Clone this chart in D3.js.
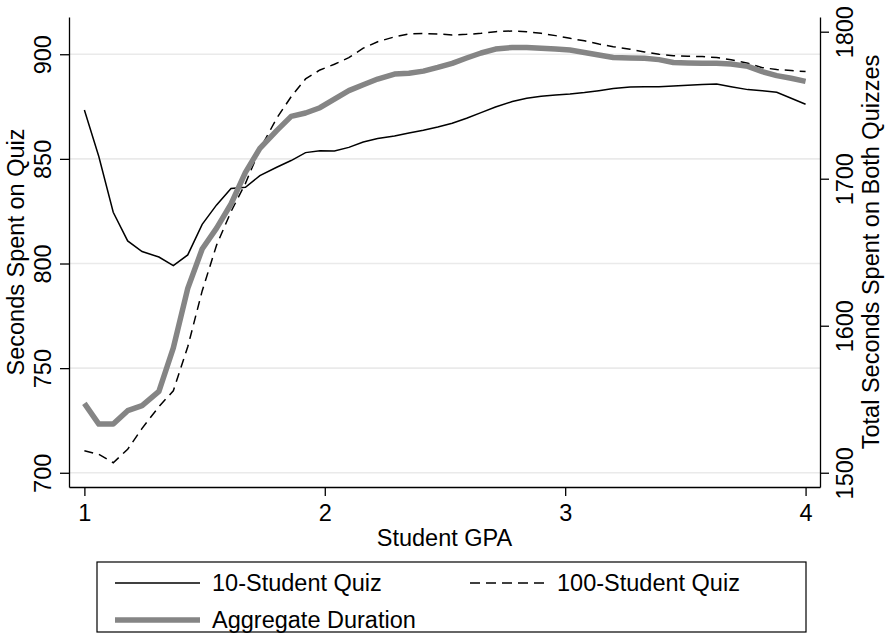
<!DOCTYPE html>
<html>
<head>
<meta charset="utf-8">
<script src="https://cdn.jsdelivr.net/npm/d3@7"></script>
<style>
  body { margin: 0; background: #fff; }
  text { font-family: "Liberation Sans", Arial, Helvetica, sans-serif; fill: #000; }
</style>
</head>
<body>
<div id="chart"></div>
<script>
// GPA grid (50 points between 1 and 4)
const gpa = [1.00, 1.06, 1.12, 1.18, 1.24, 1.31, 1.37, 1.43, 1.49, 1.55,
             1.61, 1.67, 1.73, 1.80, 1.86, 1.92, 1.98, 2.04, 2.10, 2.16,
             2.22, 2.29, 2.35, 2.41, 2.47, 2.53, 2.59, 2.65, 2.71, 2.78,
             2.84, 2.90, 2.96, 3.02, 3.08, 3.14, 3.20, 3.27, 3.33, 3.39,
             3.45, 3.51, 3.57, 3.63, 3.69, 3.76, 3.82, 3.88, 3.94, 4.00];

// seconds spent, 10-student quiz (left axis)
const quiz10 = [873.4, 851.1, 824.5, 810.8, 805.7, 803.1, 799.0, 804.1, 818.7, 828.0,
                835.9, 836.4, 842.0, 846.0, 849.2, 853.0, 853.9, 853.8, 855.5, 858.1,
                859.7, 860.9, 862.4, 863.7, 865.2, 867.0, 869.4, 872.1, 874.8, 877.4,
                879.0, 879.9, 880.5, 881.0, 881.7, 882.6, 883.6, 884.4, 884.5, 884.5,
                884.8, 885.2, 885.5, 885.8, 884.5, 883.1, 882.6, 881.8, 879.0, 876.1];

// seconds spent, 100-student quiz (left axis)
const quiz100 = [710.5, 708.8, 704.8, 711.2, 721.2, 731.6, 739.2, 760.2, 786.9, 808.8,
                 824.8, 838.3, 854.6, 869.4, 879.7, 888.2, 892.5, 895.2, 898.4, 902.9,
                 906.0, 908.3, 909.7, 909.9, 909.7, 909.2, 909.5, 910.0, 910.8, 911.1,
                 910.8, 910.0, 908.9, 907.6, 906.4, 904.9, 903.6, 902.4, 901.1, 900.0,
                 899.3, 899.0, 898.9, 898.4, 897.4, 895.7, 893.6, 892.7, 892.2, 891.7];

// total seconds on both quizzes (right axis)
const aggregate = [1547.2, 1533.1, 1533.1, 1542.2, 1545.6, 1555.3, 1585.0, 1625.4, 1652.2, 1666.4,
                   1682.8, 1704.3, 1720.6, 1732.7, 1742.4, 1744.7, 1748.3, 1754.2, 1759.9, 1763.9,
                   1767.8, 1771.2, 1771.7, 1773.2, 1775.7, 1778.5, 1782.1, 1785.5, 1788.2, 1789.3,
                   1789.3, 1788.7, 1788.2, 1787.5, 1785.9, 1784.1, 1782.5, 1782.1, 1781.9, 1781.0,
                   1779.1, 1778.7, 1778.5, 1778.5, 1778.0, 1776.4, 1772.8, 1770.1, 1768.3, 1766.2];

const xTicks = [1, 2, 3, 4];
const leftTicks = [700, 750, 800, 850, 900];
const rightTicks = [1500, 1600, 1700, 1800];

const width = 886, height = 643;
const plot = { left: 69, right: 820, top: 17, bottom: 487 };
const fontSize = 23.5;

const svg = d3.select("#chart").append("svg")
    .attr("width", width)
    .attr("height", height);

const x = d3.scaleLinear().domain([0.936, 4.06]).range([plot.left, plot.right]);
const yLeft = d3.scaleLinear().domain([693.2, 917.8]).range([plot.bottom, plot.top]);
const yRight = d3.scaleLinear().domain([1490.3, 1810]).range([plot.bottom, plot.top]);

// gridlines
svg.append("g").selectAll("line")
    .data(leftTicks)
    .enter().append("line")
    .attr("x1", plot.left).attr("x2", plot.right)
    .attr("y1", d => yLeft(d)).attr("y2", d => yLeft(d))
    .attr("stroke", "#eaeaea")
    .attr("stroke-width", 1.6);

// left axis
const gLeft = svg.append("g")
    .attr("transform", `translate(${plot.left},0)`)
    .call(d3.axisLeft(yLeft).tickValues(leftTicks).tickSize(9).tickSizeOuter(0));
gLeft.selectAll("text")
    .attr("transform", "rotate(-90)")
    .attr("x", 0)
    .attr("y", -18)
    .attr("dy", null)
    .attr("text-anchor", "middle")
    .attr("font-size", fontSize)
    .attr("font-family", null);

// right axis
const gRight = svg.append("g")
    .attr("transform", `translate(${plot.right},0)`)
    .call(d3.axisRight(yRight).tickValues(rightTicks).tickFormat(d3.format("d")).tickSize(9).tickSizeOuter(0));
gRight.selectAll("text")
    .attr("transform", "rotate(-90)")
    .attr("x", 0)
    .attr("y", 33)
    .attr("dy", null)
    .attr("text-anchor", "middle")
    .attr("font-size", fontSize)
    .attr("font-family", null);

// bottom axis
const gBottom = svg.append("g")
    .attr("transform", `translate(0,${plot.bottom})`)
    .call(d3.axisBottom(x).tickValues(xTicks).tickFormat(d3.format("d")).tickSize(9).tickSizeOuter(0));
gBottom.selectAll("text")
    .attr("y", 34)
    .attr("dy", null)
    .attr("font-size", fontSize)
    .attr("font-family", null);

[gLeft, gRight, gBottom].forEach(g => {
    g.select(".domain").attr("stroke", "#000").attr("stroke-width", 1.3);
    g.selectAll(".tick line").attr("stroke", "#000").attr("stroke-width", 1.3);
});

// axis titles
svg.append("text")
    .attr("transform", `translate(24,${(plot.top + plot.bottom) / 2}) rotate(-90)`)
    .attr("text-anchor", "middle")
    .attr("font-size", fontSize)
    .text("Seconds Spent on Quiz");

svg.append("text")
    .attr("transform", `translate(879,${(plot.top + plot.bottom) / 2}) rotate(-90)`)
    .attr("text-anchor", "middle")
    .attr("font-size", fontSize)
    .text("Total Seconds Spent on Both Quizzes");

svg.append("text")
    .attr("x", (plot.left + plot.right) / 2)
    .attr("y", 546)
    .attr("text-anchor", "middle")
    .attr("font-size", fontSize)
    .text("Student GPA");

// lines
const line10 = d3.line().x((d, i) => x(gpa[i])).y(d => yLeft(d));
const lineAgg = d3.line().x((d, i) => x(gpa[i])).y(d => yRight(d));

svg.append("path")
    .datum(quiz100)
    .attr("d", line10)
    .attr("fill", "none")
    .attr("stroke", "#000")
    .attr("stroke-width", 1.5)
    .attr("stroke-dasharray", "9,6");

svg.append("path")
    .datum(quiz10)
    .attr("d", line10)
    .attr("fill", "none")
    .attr("stroke", "#000")
    .attr("stroke-width", 1.5);

svg.append("path")
    .datum(aggregate)
    .attr("d", lineAgg)
    .attr("fill", "none")
    .attr("stroke", "#858585")
    .attr("stroke-width", 5.5)
    .attr("stroke-linejoin", "round");

// legend
const legendItems = [
    { label: "10-Student Quiz", x: 115, len: 85, row: 0, color: "#000", w: 1.5, dash: null },
    { label: "100-Student Quiz", x: 470, len: 75, row: 0, color: "#000", w: 1.5, dash: "10,6" },
    { label: "Aggregate Duration", x: 115, len: 85, row: 1, color: "#858585", w: 5.5, dash: null }
];

svg.append("rect")
    .attr("x", 97).attr("y", 562)
    .attr("width", 709).attr("height", 70)
    .attr("fill", "#fff")
    .attr("stroke", "#000")
    .attr("stroke-width", 1.2);

const legend = svg.selectAll(".legend")
    .data(legendItems)
    .enter().append("g")
    .attr("class", "legend")
    .attr("transform", d => `translate(${d.x},${583 + d.row * 37})`);

legend.append("line")
    .attr("x1", 0).attr("x2", d => d.len)
    .attr("stroke", d => d.color)
    .attr("stroke-width", d => d.w)
    .attr("stroke-dasharray", d => d.dash);

legend.append("text")
    .attr("x", d => d.len + 12)
    .attr("dy", "0.35em")
    .attr("font-size", fontSize)
    .text(d => d.label);
</script>
</body>
</html>
